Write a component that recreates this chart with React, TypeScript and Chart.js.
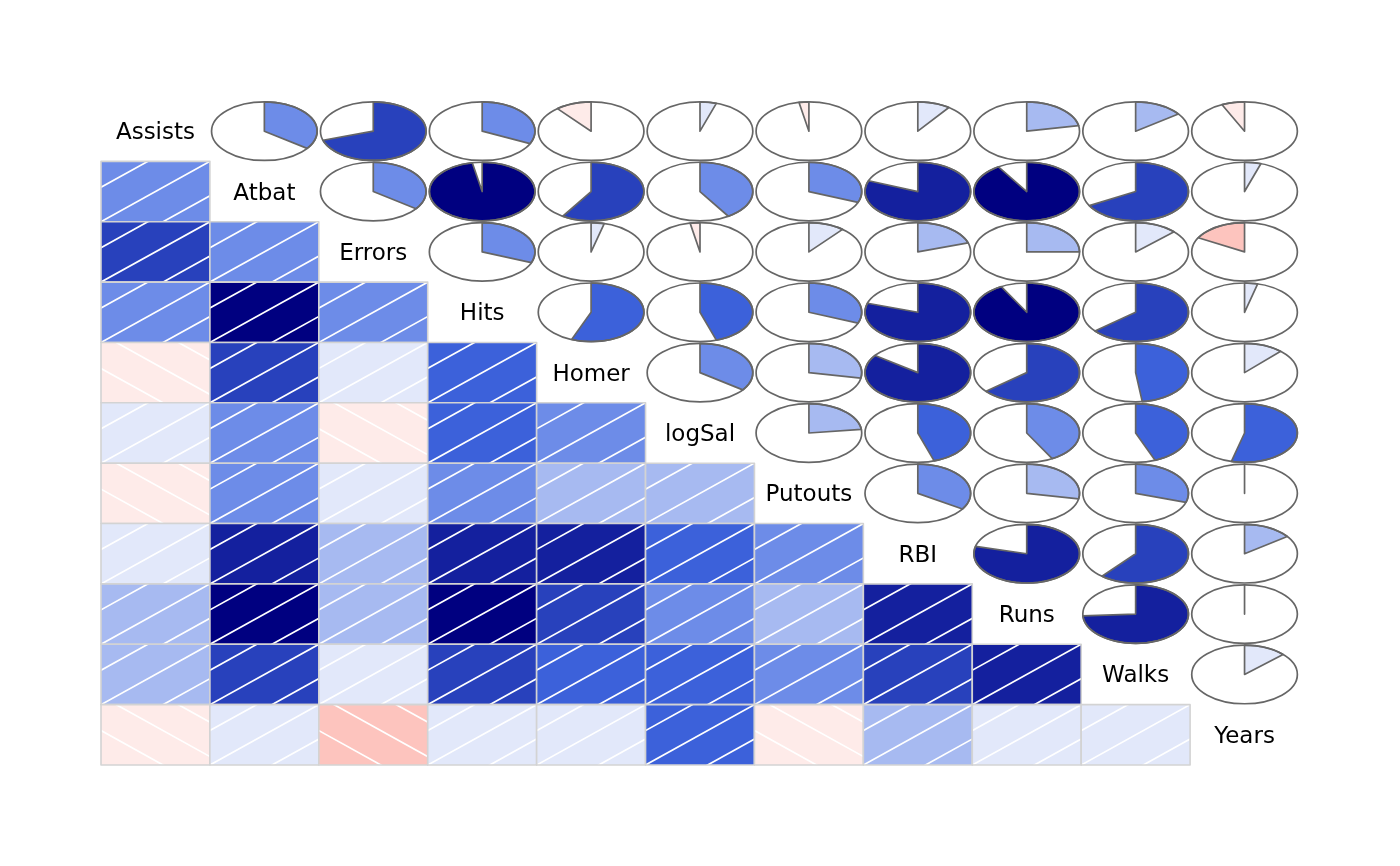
import React, { useEffect, useRef } from "react";
import { Chart, registerables } from "chart.js";

Chart.register(...registerables);

// Variables (diagonal labels)
const variables = ["Assists", "Atbat", "Errors", "Hits", "Homer", "logSal", "Putouts", "RBI", "Runs", "Walks", "Years"];

// Correlation of each variable with every variable listed after it
const corAssists = [0.35, 0.7, 0.32, -0.11, 0.05, -0.03, 0.1, 0.22, 0.15, -0.07];
const corAtbat = [0.35, 0.97, 0.59, 0.41, 0.31, 0.81, 0.91, 0.67, 0.05];
const corErrors = [0.31, 0.04, -0.03, 0.11, 0.2, 0.25, 0.13, -0.17];
const corHits = [0.56, 0.45, 0.31, 0.8, 0.92, 0.64, 0.04];
const corHomer = [0.35, 0.28, 0.85, 0.64, 0.48, 0.12];
const corLogSal = [0.23, 0.45, 0.42, 0.44, 0.54];
const corPutouts = [0.34, 0.28, 0.3, -0.012];
const corRBI = [0.79, 0.61, 0.15];
const corRuns = [0.74, 0.012];
const corWalks = [0.13];

const corRows = [corAssists, corAtbat, corErrors, corHits, corHomer, corLogSal, corPutouts, corRBI, corRuns, corWalks, []];

// colorRampPalette(c("red","salmon","white","royalblue","navy"))(14)
const palette = [
  "#FF0000", "#FD2723", "#FC4F46", "#FA7669", "#FB9D93", "#FDC4BE", "#FEEBE9",
  "#E2E8FA", "#A7BAF1", "#6D8CE8", "#3C61DA", "#2841BC", "#14209E", "#000080",
];

function corr(i: number, j: number): number {
  if (i === j) return 1;
  const a = Math.min(i, j);
  const b = Math.max(i, j);
  return corRows[a][b - a - 1];
}

function colorFor(r: number): string {
  let idx = Math.floor((r + 1) / (2 / 14));
  if (idx > 13) idx = 13;
  if (idx < 0) idx = 0;
  const lower = -1 + idx * (2 / 14);
  if (Math.abs(r - lower) < 1e-9 && idx > 0) idx -= 1;
  return palette[idx];
}

const corrgramPlugin = {
  id: "corrgram",
  afterDatasetsDraw(chart: any) {
    const ctx: CanvasRenderingContext2D = chart.ctx;
    const xs = chart.scales.x;
    const ys = chart.scales.y;
    const n = variables.length;
    ctx.save();
    for (let i = 0; i < n; i++) {
      for (let j = 0; j < n; j++) {
        const x0 = xs.getPixelForValue(j);
        const x1 = xs.getPixelForValue(j + 1);
        const y0 = ys.getPixelForValue(i);
        const y1 = ys.getPixelForValue(i + 1);
        const w = x1 - x0;
        const h = y1 - y0;
        if (i === j) {
          ctx.fillStyle = "#000000";
          ctx.font = '23px "DejaVu Sans"';
          ctx.textAlign = "center";
          ctx.textBaseline = "middle";
          ctx.fillText(variables[i], (x0 + x1) / 2, (y0 + y1) / 2 + 2);
        } else if (i > j) {
          // shade panel
          const r = corr(i, j);
          ctx.fillStyle = colorFor(r);
          ctx.fillRect(x0, y0, w, h);
          ctx.save();
          ctx.beginPath();
          ctx.rect(x0, y0, w, h);
          ctx.clip();
          ctx.strokeStyle = "#FFFFFF";
          ctx.lineWidth = 1.7;
          const s = 0.57;
          for (let k = -4; k <= 4; k++) {
            ctx.beginPath();
            if (r > 0) {
              const va = -1, vb = 2;
              ctx.moveTo(x0 + (k * s + va) * w, y1 - va * h);
              ctx.lineTo(x0 + (k * s + vb) * w, y1 - vb * h);
            } else {
              const va = -1, vb = 3;
              ctx.moveTo(x0 + (k * s - va) * w, y1 - va * h);
              ctx.lineTo(x0 + (k * s - vb) * w, y1 - vb * h);
            }
            ctx.stroke();
          }
          ctx.restore();
          ctx.strokeStyle = "#D3D3D3";
          ctx.lineWidth = 1.6;
          ctx.strokeRect(x0, y0, w, h);
        } else {
          // pie panel
          const r = corr(i, j);
          const cx = (x0 + x1) / 2;
          const cy = (y0 + y1) / 2;
          const rx = (w / 2) * 0.97;
          const ry = (h / 2) * 0.97;
          const segs = Math.round(60 * Math.abs(r));
          ctx.strokeStyle = "#666666";
          ctx.lineWidth = 1.7;
          ctx.lineJoin = "round";
          if (segs > 0) {
            ctx.beginPath();
            ctx.moveTo(cx, cy);
            for (let k = 0; k < segs; k++) {
              const a = segs === 1 ? Math.PI / 2 : Math.PI / 2 - (2 * Math.PI * r * k) / (segs - 1);
              ctx.lineTo(cx + rx * Math.cos(a), cy - ry * Math.sin(a));
            }
            ctx.closePath();
            ctx.fillStyle = colorFor(r);
            ctx.fill();
            ctx.stroke();
          }
          ctx.beginPath();
          ctx.ellipse(cx, cy, rx, ry, 0, 0, Math.PI * 2);
          ctx.stroke();
        }
      }
    }
    ctx.restore();
  },
};

export default function App() {
  const canvasRef = useRef<HTMLCanvasElement | null>(null);

  useEffect(() => {
    if (!canvasRef.current) return;
    const centers: { x: number; y: number }[] = [];
    for (let i = 0; i < variables.length; i++) {
      for (let j = 0; j < variables.length; j++) centers.push({ x: j + 0.5, y: i + 0.5 });
    }
    const chart = new Chart(canvasRef.current, {
      type: "scatter",
      data: { datasets: [{ data: centers, pointRadius: 0, pointHoverRadius: 0 }] },
      options: {
        responsive: false,
        animation: false,
        events: [],
        layout: { padding: { left: 101, right: 101, top: 101, bottom: 101 } },
        plugins: { legend: { display: false }, tooltip: { enabled: false } },
        scales: {
          x: { type: "linear", min: 0, max: 11, display: false },
          y: { type: "linear", min: 0, max: 11, reverse: true, display: false },
        },
      },
      plugins: [corrgramPlugin],
    });
    return () => chart.destroy();
  }, []);

  return (
    <div style={{ position: "absolute", left: 0, top: 0, width: 1400, height: 866, background: "#FFFFFF" }}>
      <canvas ref={canvasRef} width={1400} height={866} style={{ display: "block" }} />
    </div>
  );
}
